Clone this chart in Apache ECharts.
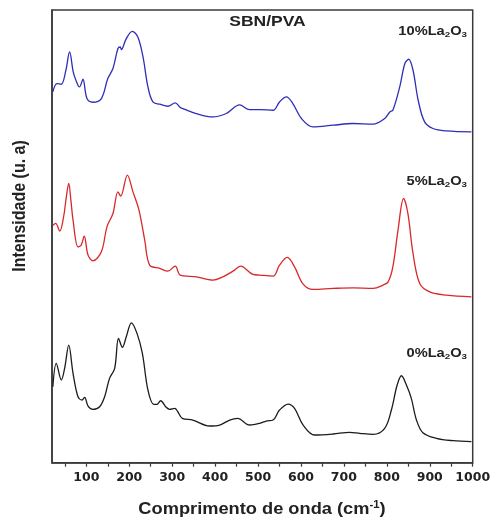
<!DOCTYPE html>
<html>
<head>
<meta charset="utf-8">
<script src="https://cdn.jsdelivr.net/npm/echarts@6/dist/echarts.min.js"></script>
<style>
html,body{margin:0;padding:0;background:#fff;}
#chart{width:491px;height:518px;}
</style>
</head>
<body>
<div id="chart"></div>
<script>
// ---- data (arbitrary intensity units) ----
const seriesNames = ['0%La2O3', '5%La2O3', '10%La2O3'];

const wn10 = [22, 31.5, 41.7, 52, 61, 70, 80.4, 84, 92, 101.5, 115, 135, 150, 162, 173.6, 179, 181.5, 193, 207, 220, 232, 243.5, 255, 271, 290, 307, 319, 325, 356, 395, 426, 457, 480, 504, 535, 550, 566, 581, 601, 628, 675, 721, 768, 795, 807, 814, 830, 842, 851, 861, 873, 888, 907.5, 939, 997];
const int10 = [371, 379.4, 378.7, 392, 411, 390, 377.7, 376, 383.7, 364.4, 360.7, 364.4, 384.4, 394.4, 414.4, 416, 413.4, 424.4, 431.7, 426, 406, 376, 361, 358.7, 356.7, 360, 355.4, 354.4, 349.4, 346, 349.4, 358, 353.4, 353.4, 352.7, 361, 366, 359.4, 344.4, 336, 337.7, 339.4, 338.7, 344.4, 351, 352.7, 376, 399.4, 403.7, 392.7, 362.7, 341, 334.4, 332, 331];

const wn5 = [22, 28.5, 38, 47, 53.4, 59, 64, 69, 80.5, 88, 95, 104, 115.5, 135, 148, 162, 173.6, 180, 195.5, 208.6, 222.6, 236, 247.5, 271, 290, 307, 319, 356, 395, 418, 441.6, 459.5, 488, 504, 535, 550, 568, 585, 605, 628, 675, 721, 768, 791, 803, 814, 826, 839, 849, 861, 876.6, 900, 939, 997];
const int5 = [237.7, 239.4, 231.7, 246, 266, 279.4, 262.7, 242.7, 216, 217.7, 226.7, 207.7, 202, 211, 236, 249.4, 271, 266.7, 287.7, 271, 252.7, 222.7, 197.7, 194.4, 191.7, 196.7, 187.7, 186, 182.7, 186, 191.7, 196.7, 188.4, 187.7, 186.7, 197.7, 205.4, 196, 178.7, 173.4, 174.4, 175, 174.4, 177.7, 181, 196, 232.7, 264.4, 249.4, 209.4, 179.4, 171, 167.7, 166];

const wn0 = [22, 30, 41.7, 49.4, 59, 69, 80.5, 90, 96, 104, 115.5, 131, 142.6, 154, 166, 175, 184, 193, 205, 218, 230.5, 243.5, 257, 264.5, 273, 286, 294, 306, 313, 323.6, 348, 387, 410.6, 434, 452, 480.5, 504, 519, 535, 550, 570, 585, 605, 632, 675, 713.5, 737, 768, 795, 810.6, 824, 834, 845.6, 857, 869, 884, 915.5, 954, 997];
const int0 = [76, 99.4, 82.7, 94.4, 117.7, 89.4, 66, 62.7, 65.4, 56.7, 53.4, 56, 66, 84.4, 94.4, 124.4, 115.4, 126, 140, 129.4, 109.4, 72.7, 58.4, 58.4, 62, 55.4, 53.4, 54.4, 51, 44.4, 42.7, 36.7, 37.7, 42.7, 44.4, 37.7, 39.4, 41.7, 42.7, 52.7, 58.7, 54.4, 37.7, 27.7, 28.7, 30.4, 29.4, 28.4, 34.4, 52.7, 77.7, 87, 77.7, 64.4, 42.7, 30, 24.4, 22, 21];

const xTickLabels = [100, 200, 300, 400, 500, 600, 700, 800, 900, 1000];
const xTickMarks = [50, 100, 150, 200, 250, 300, 350, 400, 450, 500, 550, 600, 650, 700, 750, 800, 850, 900, 950, 1000];

const colors = ['#1c1c1c', '#d8282c', '#2e2eb8'];

function pairs(xs, ys) { return xs.map((x, i) => [x, ys[i]]); }

const chart = echarts.init(document.getElementById('chart'), null, {renderer: 'canvas'});

function labelText(x, y, pct) {
  return {
    type: 'text', x: x, y: y, scaleX: 1.22, z: 100,
    style: {
      text: pct + '%La{s|2}O{s|3}',
      font: 'bold 12px "Liberation Sans"',
      fill: '#222', align: 'right', verticalAlign: 'middle',
      rich: {s: {fontSize: 8, fontWeight: 'bold', fontFamily: 'Liberation Sans', padding: [6, 0, 0, 0]}}
    }
  };
}

chart.setOption({
  backgroundColor: '#ffffff',
  animation: false,
  grid: {left: 52, right: 18.3, top: 10, bottom: 55.3, outerBoundsMode: 'none', containLabel: false,
         show: true, borderColor: '#3a3a3a', borderWidth: 1.5, backgroundColor: 'transparent'},
  xAxis: {
    type: 'value', min: 20, max: 1000,
    axisLine: {show: true, onZero: false, lineStyle: {color: '#3a3a3a', width: 1.5}},
    axisTick: {show: true, customValues: xTickMarks, length: 4, lineStyle: {color: '#3a3a3a', width: 1.2}},
    axisLabel: {customValues: xTickLabels, margin: 9, fontFamily: 'DejaVu Sans', fontWeight: 'bold', fontSize: 12.5, color: '#222',
                formatter: function (v) { return String(v); }},
    splitLine: {show: false}
  },
  yAxis: {
    type: 'value', min: 0, max: 453,
    axisLine: {show: true, lineStyle: {color: '#3a3a3a', width: 1.5}},
    axisTick: {show: false}, axisLabel: {show: false}, splitLine: {show: false}
  },
  series: [
    {name: seriesNames[0], type: 'line', data: pairs(wn0, int0), smooth: 0.35, showSymbol: false, lineStyle: {color: colors[0], width: 1.3}},
    {name: seriesNames[1], type: 'line', data: pairs(wn5, int5), smooth: 0.35, showSymbol: false, lineStyle: {color: colors[1], width: 1.3}},
    {name: seriesNames[2], type: 'line', data: pairs(wn10, int10), smooth: 0.35, showSymbol: false, lineStyle: {color: colors[2], width: 1.3}}
  ],
  graphic: [
    {type: 'text', x: 267.5, y: 22, scaleX: 1.25, z: 100,
     style: {text: 'SBN/PVA', font: 'bold 14px "Liberation Sans"', fill: '#222', align: 'center', verticalAlign: 'middle'}},
    labelText(467, 32, '10'),
    labelText(467, 182, '5'),
    labelText(467, 354, '0'),
    {type: 'text', x: 20, y: 206, rotation: Math.PI / 2, scaleY: 1.1, z: 100,
     style: {text: 'Intensidade (u. a)', font: 'bold 16px "Liberation Sans"', fill: '#222', align: 'center', verticalAlign: 'middle'}},
    {type: 'text', x: 262, y: 510, scaleX: 1.14, z: 100,
     style: {text: 'Comprimento de onda (cm{p|-1})', font: 'bold 16px "Liberation Sans"', fill: '#222', align: 'center', verticalAlign: 'middle',
       rich: {p: {fontSize: 10, fontWeight: 'bold', fontFamily: 'Liberation Sans', padding: [0, 0, 9, 0]}}}}
  ]
});
</script>
</body>
</html>
